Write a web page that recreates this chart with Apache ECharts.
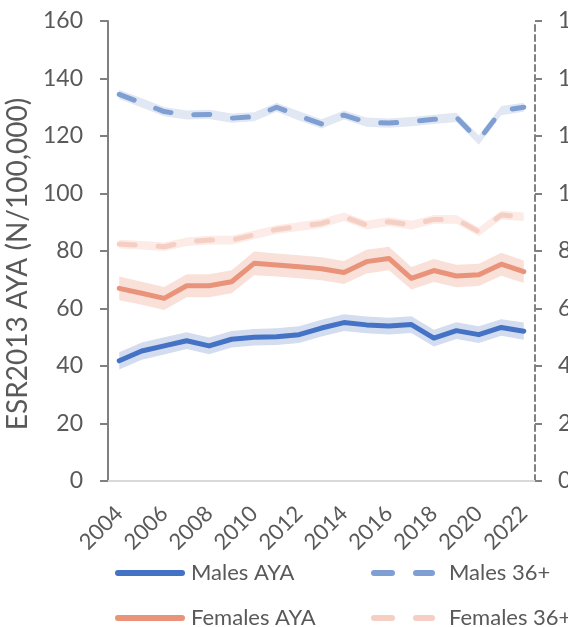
<!DOCTYPE html>
<html>
<head>
<meta charset="utf-8">
<script src="https://cdn.jsdelivr.net/npm/echarts@6/dist/echarts.min.js"></script>
<style>
html,body{margin:0;padding:0;background:#fff;overflow:hidden;}
#c{width:568px;height:627px;}
</style>
</head>
<body>
<div id="c"></div>
<script>
var years = ['2004','2005','2006','2007','2008','2009','2010','2011','2012','2013','2014','2015','2016','2017','2018','2019','2020','2021','2022'];
var yTicks = [0,20,40,60,80,100,120,140,160];

var malesAYA    = [41.8, 45.2, 47.0, 48.8, 47.0, 49.3, 50.0, 50.2, 50.9, 53.2, 55.1, 54.3, 53.9, 54.4, 49.7, 52.3, 50.9, 53.4, 52.1];
var malesAYALo  = [38.8, 42.2, 44.0, 45.9, 44.1, 46.4, 47.1, 47.3, 48.0, 50.3, 52.2, 51.4, 51.0, 51.5, 46.8, 49.4, 48.0, 50.5, 49.1];
var malesAYAHi  = [44.8, 48.2, 50.0, 51.7, 49.9, 52.2, 52.9, 53.1, 53.8, 56.1, 58.0, 57.2, 56.8, 57.3, 52.6, 55.2, 53.8, 56.3, 55.1];

var femalesAYA   = [67.0, 65.3, 63.5, 67.9, 67.9, 69.3, 75.7, 75.1, 74.5, 73.8, 72.5, 76.3, 77.4, 70.5, 73.2, 71.3, 71.7, 75.4, 72.8];
var femalesAYALo = [62.9, 61.3, 59.5, 63.9, 63.9, 65.3, 71.6, 71.1, 70.5, 69.8, 68.5, 72.2, 73.3, 66.6, 69.2, 67.4, 67.8, 71.4, 68.9];
var femalesAYAHi = [71.1, 69.3, 67.5, 71.9, 71.9, 73.3, 79.8, 79.1, 78.5, 77.8, 76.5, 80.4, 81.5, 74.4, 77.2, 75.2, 75.6, 79.4, 76.7];

var males36   = [134.5, 131.5, 128.5, 127.3, 127.5, 126.2, 126.7, 130.0, 127.0, 124.2, 127.3, 124.8, 124.5, 125.0, 125.8, 126.5, 118.6, 128.8, 130.0];
var males36Lo = [132.9, 129.9, 126.9, 125.7, 125.9, 124.6, 125.1, 128.4, 125.4, 122.6, 125.7, 123.2, 122.9, 123.4, 124.2, 124.9, 117.0, 127.2, 128.4];
var males36Hi = [136.1, 133.1, 130.1, 128.9, 129.1, 127.8, 128.3, 131.6, 128.6, 125.8, 128.9, 126.4, 126.1, 126.6, 127.4, 128.1, 120.2, 130.4, 131.6];

var females36   = [82.4, 82.0, 81.5, 83.2, 83.8, 83.8, 85.6, 87.5, 88.5, 89.6, 91.9, 89.0, 90.2, 89.0, 91.0, 91.0, 86.7, 92.5, 91.9];
var females36Lo = [80.9, 80.5, 80.0, 81.7, 82.3, 82.3, 84.1, 86.0, 87.0, 88.1, 90.4, 87.5, 88.7, 87.5, 89.5, 89.5, 85.2, 91.0, 90.4];
var females36Hi = [83.9, 83.5, 83.0, 84.7, 85.3, 85.3, 87.1, 89.0, 90.0, 91.1, 93.4, 90.5, 91.7, 90.5, 92.5, 92.5, 88.2, 94.0, 93.4];

function diff(hi, lo){ return hi.map(function(v,i){ return +(v - lo[i]).toFixed(2); }); }

function band(name, lo, hi, color, yIdx){
  return [
    {name: name+'_lo', type:'line', data: lo, stack: name, yAxisIndex: yIdx, symbol:'none',
     lineStyle:{opacity:0}, silent:true, z:1},
    {name: name+'_band', type:'line', data: diff(hi, lo), stack: name, yAxisIndex: yIdx, symbol:'none',
     lineStyle:{opacity:0}, areaStyle:{color: color, opacity:1}, silent:true, z:1}
  ];
}

var FONT = 'Lato, "Open Sans", sans-serif';
var GRAY = '#595959';

var chart = echarts.init(document.getElementById('c'), null, {renderer:'canvas'});
var series = [];
series = series.concat(band('m36', males36Lo, males36Hi, '#E1E8F4', 1));
series = series.concat(band('f36', females36Lo, females36Hi, '#FCEBE6', 1));
series = series.concat(band('mA', malesAYALo, malesAYAHi, '#D3DDEF', 0));
series = series.concat(band('fA', femalesAYALo, femalesAYAHi, '#F9E1DA', 0));
series.push(
  {name:'Males 36+', type:'line', data: males36, yAxisIndex:1, symbol:'none', z:3,
   itemStyle:{color:'#7F9FD3'},
   lineStyle:{color:'#7F9FD3', width:5, type:[16,23], cap:'round', join:'round'}},
  {name:'Females 36+', type:'line', data: females36, yAxisIndex:1, symbol:'none', z:3,
   itemStyle:{color:'#F5CFC3'},
   lineStyle:{color:'#F5CFC3', width:5, type:[16,23], cap:'round', join:'round'}},
  {name:'Males AYA', type:'line', data: malesAYA, yAxisIndex:0, symbol:'none', z:4,
   itemStyle:{color:'#4472C4'},
   lineStyle:{color:'#4472C4', width:5, cap:'round', join:'round'}},
  {name:'Females AYA', type:'line', data: femalesAYA, yAxisIndex:0, symbol:'none', z:4,
   itemStyle:{color:'#E9937A'},
   lineStyle:{color:'#E9937A', width:5, cap:'round', join:'round'}}
);

var SOLID_ICON = 'path://M3,0 L67,0 Q70,0 70,3 Q70,6 67,6 L3,6 Q0,6 0,3 Q0,0 3,0 Z';
var DASH_ICON = 'path://M3,0 L21,0 Q24,0 24,3 Q24,6 21,6 L3,6 Q0,6 0,3 Q0,0 3,0 Z M45,0 L61,0 Q64,0 64,3 Q64,6 61,6 L45,6 Q42,6 42,3 Q42,0 45,0 Z';

function leg(name, left, top, dashed){
  return {
    data:[{name:name, icon: dashed ? DASH_ICON : SOLID_ICON}],
    left:left, top:top, orient:'horizontal',
    itemWidth: dashed ? 64 : 70, itemHeight:6, itemGap:0,
    padding:0,
    textStyle:{color:GRAY, fontSize:22, fontFamily:FONT, padding:[0,0,0, dashed ? 9 : 1]},
    selectedMode:false
  };
}

chart.setOption({
  animation:false,
  backgroundColor:'#fff',
  grid:{left:108, right:33, top:21, bottom:146, containLabel:false, outerBoundsMode:'none'},
  legend:[
    leg('Males AYA', 115, 562, false),
    leg('Females AYA', 115, 607, false),
    leg('Males 36+', 371, 562, true),
    leg('Females 36+', 371, 607, true)
  ],
  xAxis:{
    type:'category', data: years, boundaryGap:true,
    axisLine:{lineStyle:{color:'#D9D9D9', width:2}},
    axisTick:{show:false},
    axisLabel:{
      interval:1, rotate:45, color:GRAY, fontSize:22, fontFamily:FONT, margin:29
    },
    splitLine:{show:false}
  },
  yAxis:[
    {
      type:'value', min:yTicks[0], max:yTicks[yTicks.length-1], interval:20, position:'left',
      name:'ESR2013 AYA (N/100,000)', nameLocation:'middle', nameGap:72, nameRotate:90,
      nameTextStyle:{color:GRAY, fontSize:28, fontFamily:FONT, padding:[0,26,0,0]},
      axisLine:{show:true, lineStyle:{color:'#808080', width:2}},
      axisTick:{show:true, length:8, lineStyle:{color:'#808080', width:2}},
      axisLabel:{color:GRAY, fontSize:23, fontFamily:FONT, margin:25},
      splitLine:{show:false}
    },
    {
      type:'value', min:yTicks[0], max:yTicks[yTicks.length-1], interval:20, position:'right',
      axisLine:{show:true, lineStyle:{color:'#808080', width:2, type:[6,4]}},
      axisTick:{show:true, length:7, lineStyle:{color:'#808080', width:2}},
      axisLabel:{color:GRAY, fontSize:23, fontFamily:FONT, margin:23},
      splitLine:{show:false}
    }
  ],
  series: series
});
</script>
</body>
</html>
